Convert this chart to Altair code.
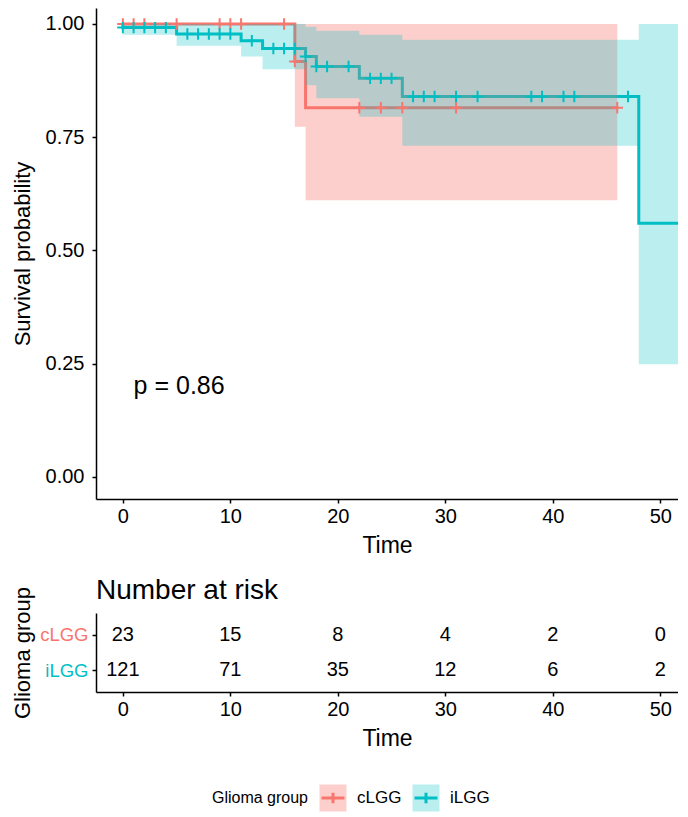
import altair as alt
import pandas as pd

FONT = "Liberation Sans"
groups = ["cLGG", "iLGG"]
colors = ["#F8766D", "#00BFC4"]
band_alpha = [0.35, 0.27]

# Kaplan-Meier step curves (time, survival)
c_time = [0, 16, 17, 46]
c_surv = [1.0, 0.917, 0.815, 0.815]
i_time = [0, 0, 5, 11, 13, 17, 18, 22, 26, 48, 52.5]
i_surv = [1.0, 0.992, 0.978, 0.963, 0.946, 0.928, 0.906, 0.880, 0.840, 0.560, 0.560]

# confidence bands
c_band_time = [0, 16, 17, 46]
c_lower = [1.0, 0.773, 0.611, 0.611]
c_upper = [1.0, 1.0, 1.0, 1.0]
i_band_time = [0, 5, 11, 13, 17, 18, 22, 26, 48, 52.5]
i_lower = [0.976, 0.952, 0.928, 0.900, 0.865, 0.836, 0.795, 0.731, 0.249, 0.249]
i_upper = [1.0, 1.0, 1.0, 1.0, 0.994, 0.985, 0.976, 0.965, 1.0, 1.0]

# censoring times
c_cens = [0, 1, 2, 5, 9, 10, 11, 15, 16, 22, 24, 26, 31, 46]
i_cens = [0, 1, 2, 3, 4, 6, 7, 8, 9, 10, 12, 14, 15, 16, 17, 18, 19, 21,
          23, 24, 25, 27, 28, 29, 31, 33, 38, 39, 41, 42, 47]

# number at risk
risk_times = [0, 10, 20, 30, 40, 50]
c_risk = [23, 15, 8, 4, 2, 0]
i_risk = [121, 71, 35, 12, 6, 2]

p_label = "p = 0.86"
p_pos = (1.0, 0.2)

# ---- tables ----
line_rows = []
for g, ts, ss in [("cLGG", c_time, c_surv), ("iLGG", i_time, i_surv)]:
    for k, (t, s) in enumerate(zip(ts, ss)):
        line_rows.append({"group": g, "time": t, "surv": s, "idx": k})
line_df = pd.DataFrame(line_rows)

band_rows = []
for g, ts, lo, up in [("cLGG", c_band_time, c_lower, c_upper),
                      ("iLGG", i_band_time, i_lower, i_upper)]:
    for t, l, u in zip(ts, lo, up):
        band_rows.append({"group": g, "time": t, "lower": l, "upper": u})
band_df = pd.DataFrame(band_rows)


def step_value(ts, ss, t):
    v = ss[0]
    for tt, s in zip(ts, ss):
        if tt <= t:
            v = s
    return v


cens_rows = []
for g, cs, ts, ss in [("cLGG", c_cens, c_time, c_surv), ("iLGG", i_cens, i_time, i_surv)]:
    for t in cs:
        cens_rows.append({"group": g, "time": t, "surv": step_value(ts, ss, t)})
cens_df = pd.DataFrame(cens_rows)

risk_rows = []
for g, ns in [("cLGG", c_risk), ("iLGG", i_risk)]:
    for t, n in zip(risk_times, ns):
        risk_rows.append({"group": g, "time": t, "n": n})
risk_df = pd.DataFrame(risk_rows)

p_df = pd.DataFrame({"time": [p_pos[0]], "surv": [p_pos[1]], "label": [p_label]})
legend_df = pd.DataFrame({"group": groups})

# ---- scales / axes ----
W = 582
xscale = alt.Scale(domain=[-2.5, 51.65], nice=False, zero=False)
yscale = alt.Scale(domain=[-0.0486, 1.0353], nice=False, zero=False)
cscale = alt.Scale(domain=groups, range=colors)
ascale = alt.Scale(domain=groups, range=band_alpha)

axis_common = dict(grid=False, domainColor="black", tickColor="black",
                   titleColor="black", domainWidth=1.5, tickWidth=1.5, tickSize=4,
                   labelFont=FONT, titleFont=FONT, titleFontWeight="normal")

xaxis = alt.Axis(values=risk_times, title="Time", labelPadding=3, titlePadding=8,
                 labelFontSize=20, titleFontSize=23, labelFlush=False, labelColor="black",
                 **axis_common)
yaxis_top = alt.Axis(values=[0, 0.25, 0.5, 0.75, 1.0], format=".2f",
                     title="Survival probability", labelPadding=8, titlePadding=5,
                     labelFontSize=20, titleFontSize=22, minExtent=57, maxExtent=57,
                     labelColor="black", **axis_common)
yaxis_risk = alt.Axis(title="Glioma group", labelPadding=4, titlePadding=5,
                      labelFontSize=18.5, titleFontSize=22, minExtent=57, maxExtent=57,
                      labelColor={"condition": {"test": "datum.value == 'cLGG'", "value": colors[0]},
                                  "value": colors[1]},
                      **axis_common)

X = alt.X("time:Q", scale=xscale, axis=xaxis)
color = alt.Color("group:N", scale=cscale, legend=None)
alpha = alt.Opacity("group:N", scale=ascale, legend=None)

lines = alt.Chart(line_df).mark_line(interpolate="step-after", strokeWidth=3, clip=True).encode(
    x=X, y=alt.Y("surv:Q", scale=yscale, axis=yaxis_top), color=color, order="idx:Q")

band = alt.Chart(band_df).mark_area(interpolate="step-after", clip=True).encode(
    x=X, y=alt.Y("lower:Q", scale=yscale, axis=yaxis_top), y2="upper:Q", color=color,
    opacity=alpha)

cens = alt.Chart(cens_df).mark_point(shape="M-1,0H1M0,-1V1", size=130, strokeWidth=2,
                                     filled=False, opacity=1, clip=True).encode(
    x=X, y=alt.Y("surv:Q", scale=yscale, axis=yaxis_top), color=color)

ptext = alt.Chart(p_df).mark_text(align="left", baseline="middle", fontSize=25, font=FONT,
                                  color="black").encode(
    x=X, y=alt.Y("surv:Q", scale=yscale, axis=yaxis_top), text="label:N")

top = alt.layer(lines, band, cens, ptext).properties(width=W, height=491)

risk = alt.Chart(risk_df).mark_text(fontSize=20, font=FONT, color="black").encode(
    x=X,
    y=alt.Y("group:N", scale=alt.Scale(type="point", padding=0.6, domain=groups), axis=yaxis_risk),
    text="n:Q",
).properties(width=W, height=79,
             title=alt.TitleParams("Number at risk", anchor="start", frame="group", fontSize=28,
                                   fontWeight="normal", font=FONT, color="black", offset=-19))

# ---- legend panel ----
lx = alt.X("group:N", scale=alt.Scale(type="point", domain=groups, range=[237, 330], padding=0),
           axis=None)
lbase = alt.Chart(legend_df).encode(x=lx, y=alt.value(13))
lsq = lbase.mark_square(size=729).encode(color=color, opacity=alpha)
lcross = lbase.mark_point(shape="M-0.85,0H0.85M0,-0.38V0.38", size=729, strokeWidth=3,
                          filled=False, opacity=1).encode(color=color)
ltext = lbase.mark_text(align="left", dx=24, fontSize=17, font=FONT, color="black").encode(
    text="group:N")
ltitle = lbase.transform_filter("datum.group == 'cLGG'").mark_text(
    align="right", dx=-25, fontSize=16, font=FONT, color="black", text="Glioma group")
legend = alt.layer(lsq, lcross, ltext, ltitle).properties(width=W, height=26)

chart = alt.vconcat(alt.vconcat(top, risk, spacing=20), legend, spacing=34).properties(
    padding={"left": 3, "top": 0, "right": 0, "bottom": 0}
).configure(font=FONT).configure_view(strokeWidth=0, stroke="transparent")

chart.save("out.html", embed_options={"renderer": "svg", "actions": False})
